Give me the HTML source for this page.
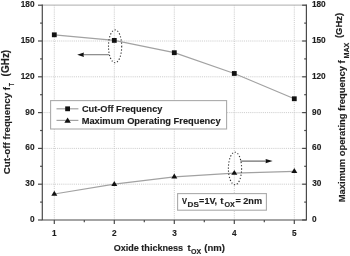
<!DOCTYPE html>
<html><head><meta charset="utf-8"><style>
html,body{margin:0;padding:0;background:#fff;width:350px;height:256px;overflow:hidden}
svg{display:block;filter:blur(0.4px)}
text{font-family:"Liberation Sans",sans-serif;font-weight:bold;fill:#1e1e1e;stroke:#1e1e1e;stroke-width:0.15px}
.g{stroke:#c8c8c8;stroke-width:0.9;stroke-dasharray:1.1 1}
.tk{stroke:#4a4a4a;stroke-width:1.2}
.el{fill:none;stroke:#333;stroke-width:1.1;stroke-dasharray:1.2 1.9}
</style></head><body>
<svg width="350" height="256" viewBox="0 0 350 256">
<line x1="54.30" y1="5.2" x2="54.30" y2="220.0" class="g"/>
<line x1="114.30" y1="5.2" x2="114.30" y2="220.0" class="g"/>
<line x1="174.30" y1="5.2" x2="174.30" y2="220.0" class="g"/>
<line x1="234.30" y1="5.2" x2="234.30" y2="220.0" class="g"/>
<line x1="294.30" y1="5.2" x2="294.30" y2="220.0" class="g"/>
<line x1="42.3" y1="184.20" x2="306.4" y2="184.20" class="g"/>
<line x1="42.3" y1="148.40" x2="306.4" y2="148.40" class="g"/>
<line x1="42.3" y1="112.60" x2="306.4" y2="112.60" class="g"/>
<line x1="42.3" y1="76.80" x2="306.4" y2="76.80" class="g"/>
<line x1="42.3" y1="41.00" x2="306.4" y2="41.00" class="g"/>
<line x1="42.3" y1="5.2" x2="306.4" y2="5.2" stroke="#bdbdbd" stroke-width="1.2"/>
<path d="M42.3 4.6000000000000005 V220.0 H306.4 V4.6000000000000005" fill="none" stroke="#4a4a4a" stroke-width="1.2"/>
<line x1="38.0" y1="220.00" x2="42.3" y2="220.00" class="tk"/>
<line x1="302.09999999999997" y1="220.00" x2="306.4" y2="220.00" class="tk"/>
<line x1="38.0" y1="184.20" x2="42.3" y2="184.20" class="tk"/>
<line x1="302.09999999999997" y1="184.20" x2="306.4" y2="184.20" class="tk"/>
<line x1="38.0" y1="148.40" x2="42.3" y2="148.40" class="tk"/>
<line x1="302.09999999999997" y1="148.40" x2="306.4" y2="148.40" class="tk"/>
<line x1="38.0" y1="112.60" x2="42.3" y2="112.60" class="tk"/>
<line x1="302.09999999999997" y1="112.60" x2="306.4" y2="112.60" class="tk"/>
<line x1="38.0" y1="76.80" x2="42.3" y2="76.80" class="tk"/>
<line x1="302.09999999999997" y1="76.80" x2="306.4" y2="76.80" class="tk"/>
<line x1="38.0" y1="41.00" x2="42.3" y2="41.00" class="tk"/>
<line x1="302.09999999999997" y1="41.00" x2="306.4" y2="41.00" class="tk"/>
<line x1="38.0" y1="5.21" x2="42.3" y2="5.21" class="tk"/>
<line x1="302.09999999999997" y1="5.21" x2="306.4" y2="5.21" class="tk"/>
<line x1="40.099999999999994" y1="202.10" x2="42.3" y2="202.10" class="tk"/>
<line x1="304.2" y1="202.10" x2="306.4" y2="202.10" class="tk"/>
<line x1="40.099999999999994" y1="166.30" x2="42.3" y2="166.30" class="tk"/>
<line x1="304.2" y1="166.30" x2="306.4" y2="166.30" class="tk"/>
<line x1="40.099999999999994" y1="130.50" x2="42.3" y2="130.50" class="tk"/>
<line x1="304.2" y1="130.50" x2="306.4" y2="130.50" class="tk"/>
<line x1="40.099999999999994" y1="94.70" x2="42.3" y2="94.70" class="tk"/>
<line x1="304.2" y1="94.70" x2="306.4" y2="94.70" class="tk"/>
<line x1="40.099999999999994" y1="58.90" x2="42.3" y2="58.90" class="tk"/>
<line x1="304.2" y1="58.90" x2="306.4" y2="58.90" class="tk"/>
<line x1="40.099999999999994" y1="23.11" x2="42.3" y2="23.11" class="tk"/>
<line x1="304.2" y1="23.11" x2="306.4" y2="23.11" class="tk"/>
<line x1="54.30" y1="220.0" x2="54.30" y2="224.0" class="tk"/>
<line x1="114.30" y1="220.0" x2="114.30" y2="224.0" class="tk"/>
<line x1="174.30" y1="220.0" x2="174.30" y2="224.0" class="tk"/>
<line x1="234.30" y1="220.0" x2="234.30" y2="224.0" class="tk"/>
<line x1="294.30" y1="220.0" x2="294.30" y2="224.0" class="tk"/>
<line x1="84.30" y1="220.0" x2="84.30" y2="222.2" class="tk"/>
<line x1="144.30" y1="220.0" x2="144.30" y2="222.2" class="tk"/>
<line x1="204.30" y1="220.0" x2="204.30" y2="222.2" class="tk"/>
<line x1="264.30" y1="220.0" x2="264.30" y2="222.2" class="tk"/>
<text x="29.94" y="221.90" font-size="9.0" textLength="4.60" lengthAdjust="spacingAndGlyphs">0</text>
<text x="312.07" y="221.90" font-size="9.0" textLength="4.60" lengthAdjust="spacingAndGlyphs">0</text>
<text x="25.33" y="186.10" font-size="9.0" textLength="9.21" lengthAdjust="spacingAndGlyphs">30</text>
<text x="312.21" y="186.10" font-size="9.0" textLength="9.21" lengthAdjust="spacingAndGlyphs">30</text>
<text x="25.33" y="150.30" font-size="9.0" textLength="9.21" lengthAdjust="spacingAndGlyphs">60</text>
<text x="312.09" y="150.30" font-size="9.0" textLength="9.21" lengthAdjust="spacingAndGlyphs">60</text>
<text x="25.33" y="114.50" font-size="9.0" textLength="9.21" lengthAdjust="spacingAndGlyphs">90</text>
<text x="312.11" y="114.50" font-size="9.0" textLength="9.21" lengthAdjust="spacingAndGlyphs">90</text>
<text x="20.73" y="78.70" font-size="9.0" textLength="13.81" lengthAdjust="spacingAndGlyphs">120</text>
<text x="311.88" y="78.70" font-size="9.0" textLength="13.81" lengthAdjust="spacingAndGlyphs">120</text>
<text x="20.73" y="42.90" font-size="9.0" textLength="13.81" lengthAdjust="spacingAndGlyphs">150</text>
<text x="311.88" y="42.90" font-size="9.0" textLength="13.81" lengthAdjust="spacingAndGlyphs">150</text>
<text x="20.73" y="7.11" font-size="9.0" textLength="13.81" lengthAdjust="spacingAndGlyphs">180</text>
<text x="311.88" y="7.11" font-size="9.0" textLength="13.81" lengthAdjust="spacingAndGlyphs">180</text>
<text x="51.95" y="236.10" font-size="9.0" textLength="4.60" lengthAdjust="spacingAndGlyphs">1</text>
<text x="112.12" y="236.10" font-size="9.0" textLength="4.60" lengthAdjust="spacingAndGlyphs">2</text>
<text x="172.15" y="236.10" font-size="9.0" textLength="4.60" lengthAdjust="spacingAndGlyphs">3</text>
<text x="232.06" y="236.10" font-size="9.0" textLength="4.60" lengthAdjust="spacingAndGlyphs">4</text>
<text x="292.09" y="236.10" font-size="9.0" textLength="4.60" lengthAdjust="spacingAndGlyphs">5</text>
<polyline fill="none" stroke="#a2a2a2" stroke-width="1.2" points="54.30,34.80 114.30,40.41 174.30,52.70 234.30,73.46 294.30,98.76"/>
<polyline fill="none" stroke="#a2a2a2" stroke-width="1.2" points="54.30,193.99 114.30,184.20 174.30,176.80 234.30,173.10 294.30,171.31"/>
<rect x="51.90" y="32.40" width="4.8" height="4.8" fill="#111"/>
<rect x="111.90" y="38.01" width="4.8" height="4.8" fill="#111"/>
<rect x="171.90" y="50.30" width="4.8" height="4.8" fill="#111"/>
<rect x="231.90" y="71.06" width="4.8" height="4.8" fill="#111"/>
<rect x="291.90" y="96.36" width="4.8" height="4.8" fill="#111"/>
<path d="M54.30 190.79 L57.30 195.69 L51.30 195.69Z" fill="#111"/>
<path d="M114.30 181.00 L117.30 185.90 L111.30 185.90Z" fill="#111"/>
<path d="M174.30 173.60 L177.30 178.50 L171.30 178.50Z" fill="#111"/>
<path d="M234.30 169.90 L237.30 174.80 L231.30 174.80Z" fill="#111"/>
<path d="M294.30 168.11 L297.30 173.01 L291.30 173.01Z" fill="#111"/>
<ellipse cx="115.1" cy="46.3" rx="6.6" ry="16.4" class="el"/>
<ellipse cx="235" cy="168.5" rx="6.6" ry="16.3" class="el"/>
<line x1="109.2" y1="54.7" x2="82" y2="54.7" stroke="#7c7c7c" stroke-width="1.1"/>
<path d="M77.2 54.7 L83.9 52.5 Q83.2 54.7 83.9 56.9Z" fill="#111"/>
<line x1="240.4" y1="161.1" x2="268" y2="161.1" stroke="#5a5a5a" stroke-width="1.1"/>
<path d="M272.6 161.1 L265.6 158.9 Q266.3 161.1 265.6 163.3Z" fill="#111"/>
<rect x="50.6" y="100.6" width="176" height="28.4" fill="#fff" stroke="#ababab" stroke-width="1.1"/>
<line x1="56.5" y1="108.8" x2="78.4" y2="108.8" stroke="#a2a2a2" stroke-width="1.2"/>
<rect x="65.2" y="106.4" width="4.8" height="4.8" fill="#111"/>
<line x1="56.5" y1="120.4" x2="78.4" y2="120.4" stroke="#a2a2a2" stroke-width="1.2"/>
<path d="M67.6 117.4 L70.8 122.8 L64.4 122.8Z" fill="#111"/>
<text x="81.92" y="111.70" font-size="9.5" textLength="80.52" lengthAdjust="spacingAndGlyphs">Cut-Off Frequency</text>
<text x="81.68" y="124.20" font-size="9.5" textLength="138.97" lengthAdjust="spacingAndGlyphs">Maximum Operating Frequency</text>
<rect x="177.6" y="193.6" width="88.8" height="16.6" fill="#fff" stroke="#ababab" stroke-width="1.1"/>
<text x="182.05" y="203.80" font-size="9.0" textLength="5.01" lengthAdjust="spacingAndGlyphs">V</text>
<text x="187.56" y="207.40" font-size="7.0" textLength="11.26" lengthAdjust="spacingAndGlyphs">DS</text>
<text x="199.12" y="203.80" font-size="9.0" textLength="17.99" lengthAdjust="spacingAndGlyphs">=1V,</text>
<text x="220.18" y="203.80" font-size="9.0" textLength="3.23" lengthAdjust="spacingAndGlyphs">t</text>
<text x="224.41" y="207.40" font-size="7.0" textLength="10.36" lengthAdjust="spacingAndGlyphs">OX</text>
<text x="235.42" y="203.80" font-size="9.0" textLength="26.65" lengthAdjust="spacingAndGlyphs">= 2nm</text>
<text x="113.63" y="250.80" font-size="9.3" textLength="69.54" lengthAdjust="spacingAndGlyphs">Oxide thickness</text>
<text x="187.59" y="250.80" font-size="9.8" textLength="3.13" lengthAdjust="spacingAndGlyphs">t</text>
<text x="191.11" y="253.90" font-size="7.0" textLength="10.15" lengthAdjust="spacingAndGlyphs">OX</text>
<text x="204.32" y="251.00" font-size="9.3" textLength="20.65" lengthAdjust="spacingAndGlyphs">(nm)</text>
<text transform="translate(10.10 174.30) rotate(-90)" font-size="9.3" textLength="87.38" lengthAdjust="spacingAndGlyphs">Cut-off frequency f</text>
<text transform="translate(14.20 86.26) rotate(-90)" font-size="6.8" textLength="3.21" lengthAdjust="spacingAndGlyphs">T</text>
<text transform="translate(9.20 76.40) rotate(-90)" font-size="10.2" textLength="26.60" lengthAdjust="spacingAndGlyphs">(GHz)</text>
<text transform="translate(345.30 202.23) rotate(-90)" font-size="9.4" textLength="141.91" lengthAdjust="spacingAndGlyphs">Maximum operating frequency f</text>
<text transform="translate(348.80 58.58) rotate(-90)" font-size="7.2" textLength="15.95" lengthAdjust="spacingAndGlyphs">MAX</text>
<text transform="translate(342.30 38.07) rotate(-90)" font-size="9.9" textLength="25.14" lengthAdjust="spacingAndGlyphs">(GHz)</text>
</svg>
</body></html>
